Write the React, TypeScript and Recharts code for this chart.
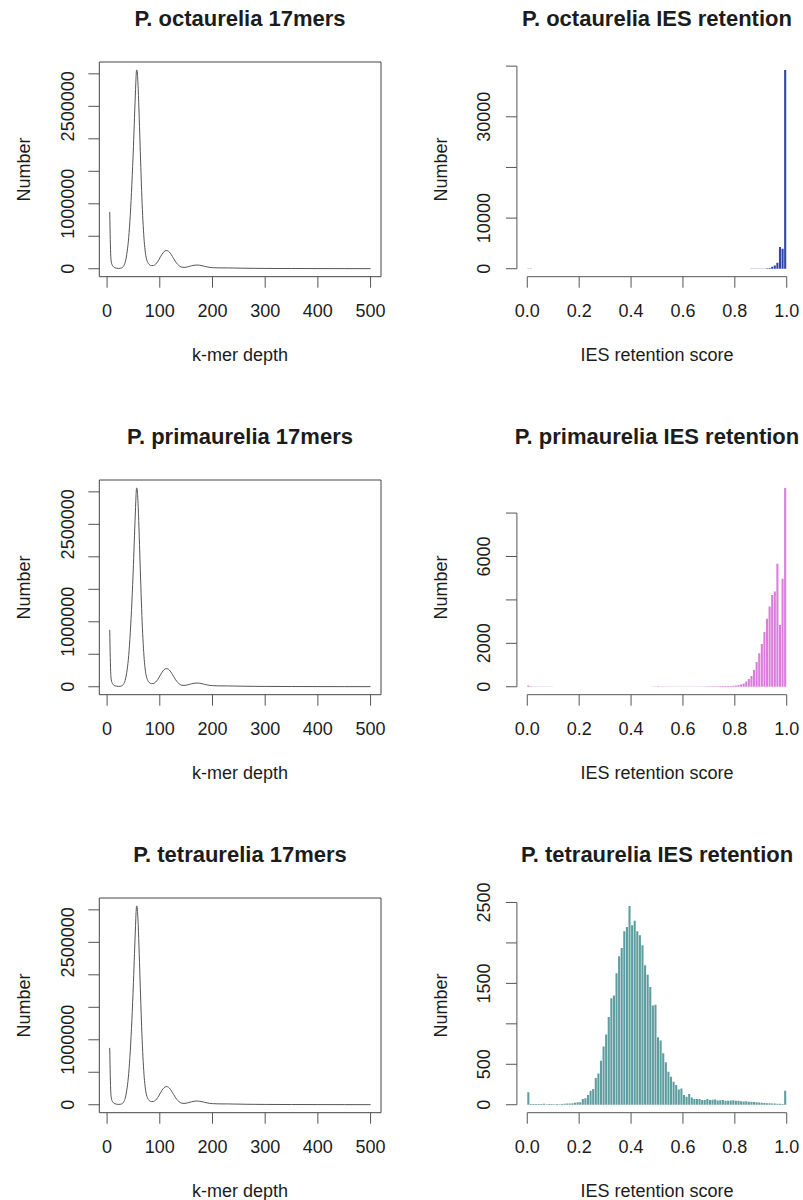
import React from "react";
import {
  LineChart,
  Line,
  BarChart,
  Bar,
  XAxis,
  YAxis,
  ReferenceArea,
  ReferenceLine,
} from "recharts";

const FONT = '"Liberation Sans", Arial, Helvetica, sans-serif';
const INK = "#1c1c1c";
const AXIS = "#555";

// k-mer spectrum (the three species panels show the same curve)
const kmerDepth = [
  5, 6, 7, 8, 10, 12, 15, 18, 22, 26, 29, 32, 35, 38, 41, 44, 47, 50, 52, 54,
  55, 56, 57, 58, 60, 62, 64, 66, 68, 70, 72, 74, 77, 80, 84, 88, 92, 96, 100,
  104, 108, 112, 115, 118, 122, 126, 130, 134, 138, 142, 146, 150, 155, 160,
  165, 170, 175, 180, 185, 190, 195, 200, 210, 220, 230, 240, 260, 280, 300,
  350, 400, 450, 500,
];
const kmerCount = [
  875000, 450000, 190000, 105000, 52000, 30000, 15000, 8000, 5000, 9000, 20000,
  50000, 120000, 260000, 480000, 830000, 1300000, 1880000, 2330000, 2760000,
  2960000, 3060000, 3050000, 2940000, 2560000, 2060000, 1560000, 1100000,
  740000, 470000, 290000, 180000, 100000, 64000, 48000, 50000, 70000, 110000,
  165000, 220000, 262000, 280000, 276000, 258000, 215000, 160000, 108000,
  66000, 38000, 24000, 20000, 24000, 34000, 45000, 53000, 57000, 55000, 47000,
  37000, 28000, 21000, 17000, 14000, 13000, 12500, 11000, 8000, 6000, 5000,
  3500, 2500, 1800, 1200,
];
const kmerXTicks = [0, 100, 200, 300, 400, 500];
const kmerYTicks = [0, 500000, 1000000, 1500000, 2000000, 2500000, 3000000];
const kmerYLabels = [0, 1000000, 2500000];

// IES retention score histograms, 100 bins of width 0.01 from 0 to 1
const octaureliaIes = [
  40, 25, 15, 12, 10, 10, 8, 8, 6, 6, 5, 5, 5, 5, 5, 5, 5, 5, 5, 5,
  5, 5, 5, 5, 5, 5, 5, 5, 5, 5, 5, 5, 5, 5, 5, 5, 5, 5, 5, 5,
  5, 5, 5, 5, 5, 5, 5, 5, 10, 15, 20, 10, 5, 5, 5, 5, 5, 5, 5, 5,
  5, 5, 5, 5, 5, 5, 5, 5, 5, 5, 6, 6, 7, 7, 8, 8, 9, 10, 10, 12,
  12, 14, 15, 18, 20, 24, 28, 32, 38, 45, 55, 70, 100, 160, 395, 650, 1185, 4270, 3950, 39250,
];
const primaureliaIes = [
  60, 20, 12, 10, 8, 8, 8, 6, 6, 6, 5, 5, 5, 5, 5, 5, 5, 5, 5, 5,
  5, 5, 5, 5, 5, 5, 5, 5, 5, 5, 5, 5, 5, 5, 5, 5, 5, 5, 5, 5,
  5, 5, 5, 5, 5, 5, 5, 5, 8, 12, 25, 12, 6, 6, 6, 6, 6, 6, 6, 6,
  7, 7, 8, 8, 9, 10, 12, 14, 16, 18, 20, 22, 25, 28, 30, 32, 35, 38, 40, 45,
  55, 77, 108, 154, 240, 360, 500, 770, 1140, 1540, 1970, 2520, 3130, 3700, 4231, 4385, 5662, 2847, 4970, 9157,
];
const tetraureliaIes = [
  153, 8, 10, 8, 10, 8, 12, 6, 10, 8, 6, 8, 6, 10, 12, 14, 16, 20, 24, 30,
  32, 72, 80, 122, 174, 194, 330, 385, 545, 720, 868, 1083, 1315, 1350, 1625, 1835, 1938, 2144, 2198, 2457,
  2219, 2273, 2144, 2095, 1971, 1723, 1607, 1454, 1227, 1235, 835, 793, 636, 525, 409, 347, 285, 244, 190, 202,
  120, 99, 132, 91, 70, 72, 70, 58, 60, 70, 60, 62, 65, 52, 56, 58, 48, 50, 54, 55,
  48, 50, 44, 40, 42, 38, 36, 34, 30, 29, 26, 22, 20, 18, 16, 14, 12, 12, 10, 174,
];
const iesXTicks = [0, 0.2, 0.4, 0.6, 0.8, 1];
const octaureliaYTicks = [0, 10000, 20000, 30000, 40000];
const octaureliaYLabels = [0, 10000, 30000];
const primaureliaYTicks = [0, 2000, 4000, 6000, 8000];
const primaureliaYLabels = [0, 2000, 6000];
const tetraureliaYTicks = [0, 500, 1000, 1500, 2000, 2500];
const tetraureliaYLabels = [0, 500, 1500, 2500];

const species = ["P. octaurelia", "P. primaurelia", "P. tetraurelia"];
const iesCounts = [octaureliaIes, primaureliaIes, tetraureliaIes];
const iesColors = ["#3445a6", "#dc7ddc", "#5f9ea0"];
const iesYTicks = [octaureliaYTicks, primaureliaYTicks, tetraureliaYTicks];
const iesYLabels = [octaureliaYLabels, primaureliaYLabels, tetraureliaYLabels];

const ROW_STEP = 418;
const tickStyle = { fontFamily: FONT, fontSize: 18, fill: INK };

function rotatedTick(shown: number[], shift: number) {
  return (props: any) => {
    const { x, y, payload } = props;
    if (!shown.includes(payload.value)) return <g />;
    const bx = x - shift;
    return (
      <text
        x={bx}
        y={y}
        transform={`rotate(-90, ${bx}, ${y})`}
        textAnchor="middle"
        fontFamily={FONT}
        fontSize={18}
        fill={INK}
      >
        {String(payload.value)}
      </text>
    );
  };
}

const kmerData = kmerDepth.map((d, i) => ({ depth: d, count: kmerCount[i] }));

function KmerPanel({ top }: { top: number }) {
  const xMin = Math.min(...kmerDepth);
  const xMax = Math.max(...kmerDepth);
  const yMax = Math.max(...kmerCount);
  const xPad = (xMax - xMin) * 0.04;
  const xDom = [xMin - xPad, xMax + xPad];
  const yDom = [-0.04 * yMax, 1.04 * yMax];
  return (
    <div style={{ position: "absolute", left: 0, top }}>
      <LineChart
        width={400}
        height={340}
        data={kmerData}
        margin={{ top: 62, right: 19, left: 39.3, bottom: 13.3 }}
      >
        <XAxis
          type="number"
          dataKey="depth"
          domain={xDom}
          allowDataOverflow
          ticks={kmerXTicks}
          interval={0}
          height={50}
          axisLine={false}
          tickSize={11}
          tickMargin={17}
          tickLine={{ stroke: AXIS }}
          tick={tickStyle}
        />
        <YAxis
          type="number"
          domain={yDom}
          allowDataOverflow
          ticks={kmerYTicks}
          interval={0}
          width={60}
          axisLine={false}
          tickSize={11}
          tickMargin={0}
          tickLine={{ stroke: AXIS }}
          tick={rotatedTick(kmerYLabels, 14)}
        />
        <ReferenceArea
          x1={xDom[0]}
          x2={xDom[1]}
          y1={yDom[0]}
          y2={yDom[1]}
          fill="none"
          stroke="#444"
          strokeWidth={1}
          ifOverflow="visible"
        />
        <Line
          type="monotone"
          dataKey="count"
          stroke="#555"
          strokeWidth={1}
          dot={false}
          isAnimationActive={false}
        />
      </LineChart>
    </div>
  );
}

function IesPanel({ top, row }: { top: number; row: number }) {
  const counts = iesCounts[row];
  const data = counts.map((n, i) => ({ mid: (i + 0.5) / counts.length, n }));
  const yMax = Math.max(...counts);
  const yDom = [-0.04 * yMax, 1.04 * yMax];
  const ticks = iesYTicks[row];
  return (
    <div style={{ position: "absolute", left: 400, top }}>
      <BarChart
        width={403}
        height={340}
        data={data}
        margin={{ top: 62, right: 5.9, left: 56.9, bottom: 13.3 }}
      >
        <XAxis
          type="number"
          dataKey="mid"
          domain={[-0.04, 1.04]}
          allowDataOverflow
          ticks={iesXTicks}
          interval={0}
          height={50}
          axisLine={false}
          tickSize={11}
          tickMargin={17}
          tickLine={{ stroke: AXIS }}
          tick={tickStyle}
          tickFormatter={(v: number) => v.toFixed(1)}
        />
        <YAxis
          type="number"
          domain={yDom}
          allowDataOverflow
          ticks={ticks}
          interval={0}
          width={60}
          axisLine={false}
          tickSize={11}
          tickMargin={0}
          tickLine={{ stroke: AXIS }}
          tick={rotatedTick(iesYLabels[row], 16)}
        />
        <ReferenceLine
          segment={[
            { x: 0, y: yDom[0] },
            { x: 1, y: yDom[0] },
          ]}
          stroke={AXIS}
          ifOverflow="visible"
        />
        <ReferenceLine
          segment={[
            { x: -0.04, y: 0 },
            { x: -0.04, y: ticks[ticks.length - 1] },
          ]}
          stroke={AXIS}
          ifOverflow="visible"
        />
        <Bar
          dataKey="n"
          fill={iesColors[row]}
          barSize={2.1}
          isAnimationActive={false}
        />
      </BarChart>
    </div>
  );
}

export default function App() {
  return (
    <div
      style={{
        position: "absolute",
        left: 0,
        top: 0,
        width: 803,
        height: 1200,
        background: "#fff",
        fontFamily: FONT,
      }}
    >
      {species.map((s, r) => (
        <React.Fragment key={s}>
          <KmerPanel top={r * ROW_STEP} />
          <IesPanel top={r * ROW_STEP} row={r} />
        </React.Fragment>
      ))}
      <svg
        width={803}
        height={1200}
        style={{ position: "absolute", left: 0, top: 0, pointerEvents: "none" }}
        fontFamily={FONT}
        fill={INK}
      >
        {species.map((s, r) => {
          const dy = r * ROW_STEP;
          return (
            <g key={s}>
              <text x={240} y={26 + dy} textAnchor="middle" fontSize={22} fontWeight="bold">
                {`${s} 17mers`}
              </text>
              <text x={657} y={26 + dy} textAnchor="middle" fontSize={22} fontWeight="bold">
                {`${s} IES retention`}
              </text>
              <text x={240} y={361 + dy} textAnchor="middle" fontSize={18}>
                k-mer depth
              </text>
              <text x={657} y={361 + dy} textAnchor="middle" fontSize={18}>
                IES retention score
              </text>
              <text
                x={30}
                y={169.4 + dy}
                textAnchor="middle"
                fontSize={18}
                transform={`rotate(-90, 30, ${169.4 + dy})`}
              >
                Number
              </text>
              <text
                x={446.7}
                y={169.4 + dy}
                textAnchor="middle"
                fontSize={18}
                transform={`rotate(-90, 446.7, ${169.4 + dy})`}
              >
                Number
              </text>
            </g>
          );
        })}
      </svg>
    </div>
  );
}
